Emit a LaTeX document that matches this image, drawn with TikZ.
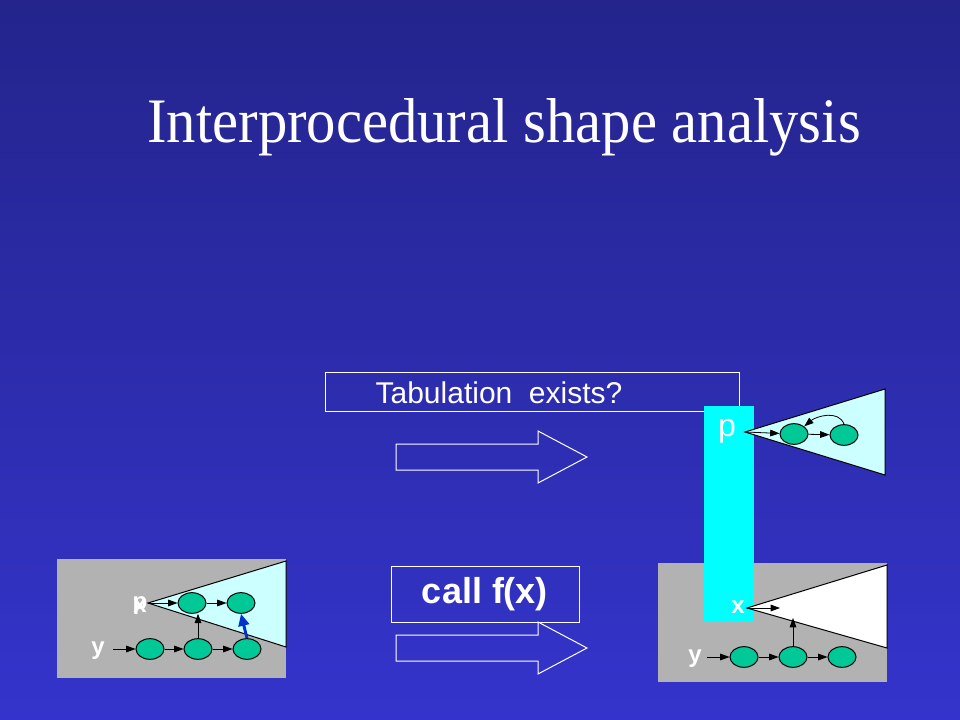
\documentclass[tikz,border=0pt]{standalone}
\usepackage{fontspec}
\setmainfont{Liberation Serif}
\setsansfont{Liberation Sans}
\usetikzlibrary{arrows.meta,shapes.geometric}
\definecolor{slidetop}{RGB}{36,36,140}
\definecolor{slidebot}{RGB}{52,52,204}
\definecolor{cellgreen}{RGB}{0,200,150}
\definecolor{shapegray}{RGB}{178,178,178}
\definecolor{palecyan}{RGB}{204,255,255}
\definecolor{framecyan}{RGB}{0,255,255}
\definecolor{ptrblue}{RGB}{0,51,204}
\tikzset{>/.tip={Triangle[length=7pt,width=5pt]},
  cell/.style={ellipse,draw=black,line width=0.75pt,fill=cellgreen,minimum width=21pt,minimum height=15.5pt,inner sep=0pt},
  lbl/.style={text=white,font=\sffamily\bfseries\fontsize{18}{20}\selectfont,inner sep=0pt},
  ptr/.style={->,black,line width=0.6pt}}

\begin{document}
\begin{tikzpicture}[x=0.75pt,y=-0.75pt]
\shade[top color=slidetop,bottom color=slidebot] (0,0) rectangle (960,720);
\useasboundingbox (0,0) rectangle (960,720);
\node[anchor=base,text=white,inner sep=0pt,font=\fontsize{44}{50}\selectfont] (title) at (504,143) {\scalebox{1}[1.08]{Interprocedural shape analysis}};
% tabulation and call boxes
\draw[white,line width=0.75pt] (325,372) rectangle (739,411);
\node[anchor=base,text=white,inner sep=0pt,font=\sffamily\fontsize{22.5}{26}\selectfont] (tab) at (499,403) {Tabulation\ \ exists?};
\node[draw=white,line width=0.75pt,minimum width=141pt,minimum height=42pt,text=white,font=\sffamily\bfseries\fontsize{27}{30}\selectfont] (call) at (485,594) {call f(x)};
\foreach \yy in {457,648}
{
  \draw[white,line width=0.75pt] (396,\yy-13) -- (538,\yy-13) -- (538,\yy-26) -- (587,\yy) -- (538,\yy+26) -- (538,\yy+13) -- (396,\yy+13) -- cycle;
}
% left heap
\fill[shapegray] (57,559) rectangle (286,678);
\draw[black,line width=0.75pt,fill=palecyan] (148,603) coordinate (la) -- (286,561) -- (286,647) -- cycle;
\node[lbl] (lx) at (140,606) {x};
\node[lbl] (lp) at (140,606) {p};
\node[lbl] (ly) at (98,651) {y};
\coordinate (lys) at (113,649);
\node[cell] (t1) at (192,603) {};
\node[cell] (t2) at (241,603) {};
\node[cell] (b1) at (150,649) {};
\node[cell] (b2) at (198,649) {};
\node[cell] (b3) at (247,649) {};
\draw[ptr] (la) to (t1);
\draw[ptr] (t1) to (t2);
\draw[ptr] (lys) to (b1);
\draw[ptr] (b1) to (b2);
\draw[ptr] (b2) to (b3);
\draw[ptr] (b2.north) to (b2.north |- t1.south);
\draw[->,ptrblue,line width=2.2pt,>={Triangle[length=9pt,width=8pt]}] (b3.north) to (t2.south);
% right heap
\fill[shapegray] (658,563) rectangle (887,682);
\fill[framecyan] (704,406) rectangle (754,622);
\draw[black,line width=0.75pt,fill=white] (747,608) coordinate (ra) -- (887,565) -- (887,648) -- cycle;
\draw[black,line width=0.75pt,fill=palecyan] (745,432) coordinate (ua) -- (885,389) -- (885,475) -- cycle;
\node[lbl] (rx) at (738,607) {x};
\node[lbl,font=\sffamily\fontsize{24}{26}\selectfont] (rp) at (727,431) {p};
\node[lbl] (ry) at (695,659) {y};
\coordinate (rys) at (707,657);
\coordinate (rxe) at (780,608);
\coordinate (rup) at (793,618);
\node[cell] (r1) at (744,657) {};
\node[cell] (r2) at (793,657) {};
\node[cell] (r3) at (842,657) {};
\node[cell] (u1) at (794,434) {};
\node[cell] (u2) at (844,435) {};
\draw[ptr] (ra) to (rxe);
\draw[ptr] (rys) to (r1);
\draw[ptr] (r1) to (r2);
\draw[ptr] (r2) to (r3);
\draw[ptr] (r2.north) to (rup);
\draw[ptr] (ua) to (u1);
\draw[ptr] (u1) to (u2);
\draw[ptr] (u2.north) to[out=110,in=40] (u1.north east);
\end{tikzpicture}
\end{document}
